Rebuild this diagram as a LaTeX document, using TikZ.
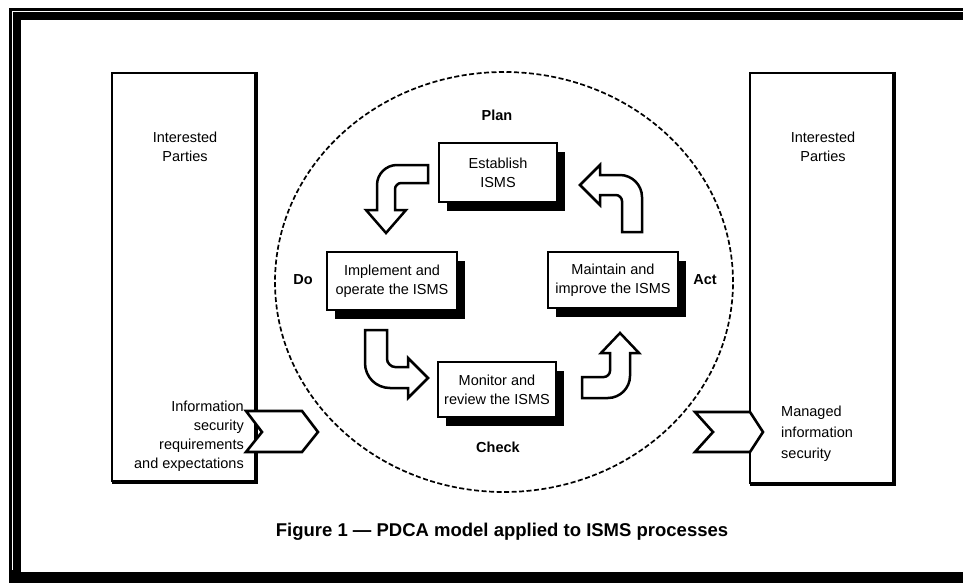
\documentclass[tikz,border=0pt]{standalone}
\usepackage{fontspec}
\setmainfont{Liberation Sans}
\usetikzlibrary{shadows}
\begin{document}
\begin{tikzpicture}[x=1pt,y=-1pt,
  txt/.style={font=\fontsize{14.5}{19}\selectfont, align=center, inner sep=0pt},
  lbl/.style={font=\fontsize{14.5}{17}\selectfont\bfseries, inner sep=0pt},
  procbox/.style={draw, line width=2.6pt, fill=white, align=center, inner sep=1pt,
    font=\fontsize{14.5}{19}\selectfont,
    general shadow={fill=black, shadow xshift=8pt, shadow yshift=-9pt}},
  partybox/.style={draw, line width=2.6pt},
  blockarrow/.style={draw, line width=2.5pt, fill=white, line join=miter},
  chevron/.style={draw, line width=2.6pt, fill=white, line join=miter}]
\useasboundingbox (0,0) rectangle (963,583);
\fill[white] (0,0) rectangle (963,583);

% outer frame
\fill[black] (9,8) rectangle (21,583);
\fill[black] (9,8) rectangle (963,20);
\fill[black] (9,572) rectangle (963,583);
\draw[white, line width=0.7pt] (12.5,12) -- (12.5,570);
\draw[white, line width=0.7pt] (12,11.5) -- (963,11.5);

% interested parties boxes
\draw[partybox] (112,73) rectangle (257,481);
\draw[line width=4.5pt] (256,72) -- (256,482) -- (112,482);
\node[txt] (ipl) at (185,147) {Interested\\Parties};
\draw[partybox] (750,73) rectangle (895,483);
\draw[line width=4.5pt] (894,72) -- (894,484) -- (750,484);
\node[txt] (ipr) at (823,147) {Interested\\Parties};

% dashed circle
\draw[dash pattern=on 5pt off 2.5pt, line width=1.7pt] (504,282) ellipse (229pt and 210pt);

% process boxes
\node[procbox, minimum width=118pt, minimum height=59pt] (plan) at (498,172.5) {Establish\\ISMS};
\node[procbox, minimum width=130pt, minimum height=58pt] (do) at (392,281) {Implement and\\operate the ISMS};
\node[procbox, minimum width=130pt, minimum height=56pt] (act) at (613,280) {Maintain and\\improve the ISMS};
\node[procbox, minimum width=118pt, minimum height=55pt] (check) at (497,389.5) {Monitor and\\review the ISMS};

% phase labels
\node[lbl] (lplan) at (497,115) {Plan};
\node[lbl] (ldo) at (303,280) {Do};
\node[lbl] (lact) at (705,280) {Act};
\node[lbl] (lcheck) at (498,447) {Check};

% curved block arrows
\draw[blockarrow] (428,165) -- (397,165) .. controls (386,165) and (377,174) .. (377,185)
  -- (377,210) -- (366,210) -- (386,233) -- (406,210) -- (395,210) -- (395,189)
  .. controls (395,186) and (398,183) .. (401,183) -- (428,183) -- cycle;
\draw[blockarrow] (600,165) -- (580,185) -- (600,205) -- (600,195) -- (616,195)
  .. controls (619,195) and (622,198) .. (622,201) -- (622,232) -- (642,232) -- (642,197)
  .. controls (642,185) and (632,175) .. (620,175) -- (600,175) -- cycle;
\draw[blockarrow] (365,330) -- (365,363) .. controls (365,377) and (376,388) .. (390,388)
  -- (408,388) -- (408,398) -- (428,378) -- (408,358) -- (408,367) -- (395,367)
  .. controls (391,367) and (387,363) .. (387,359) -- (387,330) -- cycle;
\draw[blockarrow] (582,377) -- (604,377) .. controls (607,377) and (610,374) .. (610,371)
  -- (610,353) -- (601,353) -- (620,333) -- (639,353) -- (630,353) -- (630,376)
  .. controls (630,388) and (620,398) .. (608,398) -- (582,398) -- cycle;

% input / output chevrons
\draw[chevron] (246,411) -- (302,411) -- (318,432) -- (302,452) -- (246,452) -- (262,432) -- cycle;
\draw[chevron] (695,412) -- (750,412) -- (763,432) -- (750,452) -- (695,452) -- (713,432) -- cycle;

\node[txt, align=right, anchor=east] (req) at (244,436)
  {Information\\security\\requirements\\and expectations};
\node[txt, align=left, anchor=west, font=\fontsize{14.5}{21}\selectfont] (mis) at (781,434)
  {Managed\\information\\security};

% caption
\node[font=\fontsize{18.5}{22}\selectfont\bfseries, inner sep=0pt] (cap) at (502,532)
  {Figure 1 \textemdash\ PDCA model applied to ISMS processes};
\end{tikzpicture}
\end{document}
